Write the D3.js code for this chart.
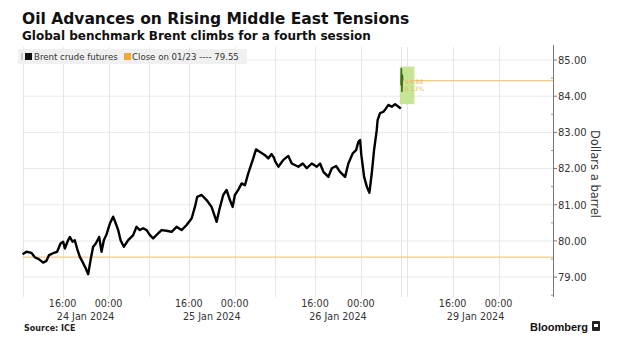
<!DOCTYPE html>
<html><head><meta charset="utf-8">
<script src="https://cdn.jsdelivr.net/npm/d3@7"></script>
<style>
html,body{margin:0;padding:0;background:#fff;}
svg{display:block;font-family:"DejaVu Sans",Verdana,sans-serif;}
</style></head>
<body><svg id="c" width="625" height="346"></svg>
<script>
// ---- data (times in Hong Kong time, UTC+8) ----
const titleText = "Oil Advances on Rising Middle East Tensions";
const subtitleText = "Global benchmark Brent climbs for a fourth session";
const sourceText = "Source: ICE";
const seriesName = "Brent crude futures";
const refName = "Close on 01/23 ---- 79.55";
const closeRef = 79.55;
const lastPrice = 84.43;
const changeLabels = ["+4.88", "6.13%"];
const highlightRange = [83.78, 84.82];
const highlightEnd = "01-29 09:20";

const sessions = [
  ["2024-01-24T09:00:00+08:00", "2024-01-25T07:00:00+08:00"],
  ["2024-01-25T09:00:00+08:00", "2024-01-26T07:00:00+08:00"],
  ["2024-01-26T09:00:00+08:00", "2024-01-27T07:00:00+08:00"],
  ["2024-01-29T07:00:00+08:00", "2024-01-30T07:00:00+08:00"],
  ["2024-01-30T09:00:00+08:00", "2024-01-30T11:30:00+08:00"]
];

const times = [
 "01-24 09:00","01-24 09:42","01-24 10:34","01-24 11:09","01-24 11:54","01-24 12:36","01-24 13:11","01-24 13:38",
 "01-24 14:20","01-24 15:02","01-24 15:38","01-24 16:05","01-24 16:23","01-24 16:57","01-24 17:15","01-24 17:43",
 "01-24 18:07","01-24 18:31","01-24 19:00","01-24 19:28","01-24 20:02","01-24 20:27","01-24 20:52","01-24 21:19",
 "01-24 21:47","01-24 22:22","01-24 22:47","01-24 23:11","01-24 23:39","01-25 00:14","01-25 00:48","01-25 01:16",
 "01-25 01:41","01-25 02:06","01-25 02:40","01-25 03:26","01-25 04:18","01-25 04:53","01-25 05:28","01-25 06:02",
 "01-25 06:38",
 "01-25 09:13","01-25 09:47","01-25 10:39","01-25 11:15","01-25 12:07","01-25 13:00","01-25 13:52","01-25 14:44",
 "01-25 15:37","01-25 16:29","01-25 17:04","01-25 17:28","01-25 18:14","01-25 19:06","01-25 19:58","01-25 20:51",
 "01-25 21:18","01-25 22:00","01-25 22:35","01-25 23:10","01-25 23:38","01-26 00:02","01-26 00:37","01-26 01:13",
 "01-26 01:47","01-26 02:22","01-26 02:40","01-26 03:14","01-26 03:43","01-26 04:25","01-26 05:17","01-26 05:51",
 "01-26 06:26","01-26 06:50",
 "01-26 09:05","01-26 09:37","01-26 10:29","01-26 11:21","01-26 11:57","01-26 13:06","01-26 13:52","01-26 14:34",
 "01-26 15:26","01-26 16:19","01-26 16:53","01-26 17:28","01-26 18:20","01-26 18:56","01-26 19:41","01-26 20:22",
 "01-26 21:15","01-26 21:49","01-26 22:35","01-26 23:10","01-26 23:34","01-26 23:52","01-27 00:05","01-27 00:34",
 "01-27 01:02","01-27 01:29","01-27 01:54","01-27 02:18","01-27 02:46","01-27 02:55","01-27 03:21","01-27 03:56",
 "01-27 04:19","01-27 04:48","01-27 05:23","01-27 05:58","01-27 06:33","01-27 06:58"
];
const prices = [
 79.63,79.70,79.67,79.55,79.49,79.40,79.45,79.61,
 79.66,79.70,79.93,79.98,79.79,80.02,80.11,79.98,
 80.02,79.79,79.56,79.42,79.24,79.08,79.47,79.84,
 79.93,80.11,79.70,80.02,80.18,80.48,80.67,80.48,
 80.30,80.02,79.84,80.02,80.16,80.39,80.30,80.35,
 80.30,
 80.16,80.07,80.21,80.30,80.28,80.25,80.39,80.30,
 80.44,80.62,80.94,81.22,81.27,81.13,80.94,80.53,
 80.85,81.27,81.41,81.13,80.94,81.27,81.41,81.59,
 81.54,81.87,82.01,82.28,82.53,82.46,82.37,82.28,
 82.40,82.30,
 82.19,82.05,82.24,82.35,82.14,82.05,82.14,82.01,
 82.14,82.05,82.14,81.91,81.77,82.01,82.07,81.91,
 81.77,82.14,82.42,82.51,82.74,82.79,82.37,81.77,
 81.50,81.33,81.87,82.51,83.06,83.34,83.53,83.57,
 83.65,83.76,83.71,83.78,83.71,83.66
];
const latestTimes = ["01-29 07:00","01-29 07:03","01-29 07:06","01-29 07:10","01-29 07:14","01-29 07:18"];
const latestPrices = [84.30, 84.78, 84.55, 84.12, 84.60, 84.43];

const yTicks = [79, 80, 81, 82, 83, 84, 85];
const yMinorTicks = [78.5, 79.5, 80.5, 81.5, 82.5, 83.5, 84.5];
const gridTimes = [];
["01-24","01-25","01-26","01-27","01-28","01-29"].forEach(d => {
  gridTimes.push(d + " 08:00", d + " 16:00");
});
gridTimes.push("01-25 00:00","01-26 00:00","01-27 00:00","01-30 00:00");
const labelDays = [
  {time: "01-24 16:00", next: "01-25 00:00", label: "24 Jan 2024"},
  {time: "01-25 16:00", next: "01-26 00:00", label: "25 Jan 2024"},
  {time: "01-26 16:00", next: "01-27 00:00", label: "26 Jan 2024"},
  {time: "01-29 16:00", next: "01-30 00:00", label: "29 Jan 2024"}
];

// ---- helpers ----
const parseT = s => new Date("2024-" + s.replace(" ", "T") + ":00+08:00");
const sess = sessions.map(s => [new Date(s[0]), new Date(s[1])]);
const HOUR = 3600e3;
function tradingHours(dt) {
  let h = 0;
  for (const [a, b] of sess) {
    const v = Math.min(Math.max(dt - a, 0), b - a);
    h += v / HOUR;
  }
  return h;
}
const totalHours = tradingHours(sess[sess.length - 1][1]);

const plotL = 22.5, plotR = 553, plotT = 47, plotB = 297;
const x = d3.scaleLinear().domain([0, totalHours]).range([plotL, plotR]);
const y = d3.scaleLinear().domain([78.45, 85.36]).range([plotB, plotT]);
const xt = s => x(tradingHours(s instanceof Date ? s : parseT(s)));

const svg = d3.select("#c");

// grid
const g = svg.append("g");
g.selectAll(".hg").data(yTicks).join("line")
  .attr("x1", plotL).attr("x2", plotR)
  .attr("y1", d => y(d)).attr("y2", d => y(d))
  .attr("stroke", "#e9e9e9").attr("stroke-width", 1);
g.selectAll(".vg").data(gridTimes).join("line")
  .attr("x1", d => Math.round(xt(d)) + 0.5).attr("x2", d => Math.round(xt(d)) + 0.5)
  .attr("y1", plotT).attr("y2", plotB)
  .attr("stroke", "#e6e6e6").attr("stroke-width", 1);

// legend bar
const lg = svg.append("g");
lg.append("rect").attr("x", 18).attr("y", 49).attr("width", 229).attr("height", 15).attr("fill", "#f0f0f0");
lg.append("rect").attr("x", 21).attr("y", 53).attr("width", 2).attr("height", 7).attr("fill", "#c8c8c8");
lg.append("rect").attr("x", 25).attr("y", 53).attr("width", 7).attr("height", 7).attr("fill", "#111");
lg.append("text").attr("x", 34).attr("y", 60).attr("font-size", 8.6).attr("fill", "#333").text(seriesName);
lg.append("rect").attr("x", 124).attr("y", 53).attr("width", 7).attr("height", 7).attr("fill", "#f0a830");
lg.append("text").attr("x", 132).attr("y", 60).attr("font-size", 8.6).attr("fill", "#333").text(refName);

// reference close line
svg.append("line").attr("x1", plotL).attr("x2", plotR)
  .attr("y1", y(closeRef)).attr("y2", y(closeRef))
  .attr("stroke", "#f3c98a").attr("stroke-width", 1.2);

// highlight box for latest session
const hx0 = xt(times[times.length - 1]) - 1, hx1 = xt(highlightEnd);
svg.append("rect").attr("x", hx0).attr("y", y(highlightRange[1]))
  .attr("width", hx1 - hx0).attr("height", y(highlightRange[0]) - y(highlightRange[1]))
  .attr("fill", "#c0e38a").attr("opacity", 0.9);
// last price line
svg.append("line").attr("x1", xt(latestTimes[latestTimes.length - 1]) + 1).attr("x2", plotR)
  .attr("y1", y(lastPrice)).attr("y2", y(lastPrice))
  .attr("stroke", "#f3c98a").attr("stroke-width", 1.2);
svg.append("text").attr("x", hx0 + 5).attr("y", y(lastPrice) + 3).attr("font-size", 6)
  .attr("fill", "#e8b860").text(changeLabels[0]);
svg.append("text").attr("x", hx0 + 5).attr("y", y(lastPrice) + 10).attr("font-size", 6)
  .attr("fill", "#e8b860").text(changeLabels[1]);

// series line
const line = d3.line().x(d => xt(d[0])).y(d => y(d[1]));
svg.append("path").datum(times.map((t, i) => [t, prices[i]]))
  .attr("d", line).attr("fill", "none").attr("stroke", "#000").attr("stroke-width", 2.4)
  .attr("stroke-linejoin", "round");
svg.append("path").datum(latestTimes.map((t, i) => [t, latestPrices[i]]))
  .attr("d", line).attr("fill", "none").attr("stroke", "#3f6f12").attr("stroke-width", 1.6);

// y axis
const yAxis = svg.append("g").attr("transform", `translate(${plotR},0)`);
yAxis.append("line").attr("x1", 0.5).attr("x2", 0.5).attr("y1", 45).attr("y2", plotB).attr("stroke", "#777");
yAxis.selectAll(".mt").data(yMinorTicks).join("line")
  .attr("x1", -2).attr("x2", 0.5).attr("y1", d => y(d)).attr("y2", d => y(d)).attr("stroke", "#999");
yAxis.selectAll(".t").data(yTicks).join("line")
  .attr("x1", 0.5).attr("x2", 4).attr("y1", d => y(d)).attr("y2", d => y(d)).attr("stroke", "#777");
yAxis.selectAll(".tl").data(yTicks).join("text")
  .attr("x", 5).attr("y", d => y(d) + 3.8).attr("font-size", 10).attr("fill", "#333")
  .text(d => d3.format(".2f")(d));
svg.append("text").attr("transform", `translate(591,${(plotT + plotB) / 2 + 2}) rotate(90)`)
  .attr("text-anchor", "middle").attr("font-size", 11.5).attr("fill", "#333").text("Dollars a barrel");

// x labels
const xl = svg.append("g").attr("font-size", 9.6).attr("fill", "#333").attr("text-anchor", "middle");
labelDays.forEach(d => {
  const a = xt(d.time), b = xt(d.next);
  xl.append("text").attr("x", a).attr("y", 307).text(d.time.slice(6));
  xl.append("text").attr("x", b).attr("y", 307).text(d.next.slice(6));
  xl.append("text").attr("x", (a + b) / 2).attr("y", 320).text(d.label);
});

// titles
svg.append("text").attr("x", 22).attr("y", 24).attr("font-size", 15.5).attr("font-weight", "bold")
  .attr("fill", "#111").text(titleText);
svg.append("text").attr("x", 22).attr("y", 40).attr("font-size", 12).attr("font-weight", "bold")
  .attr("fill", "#111").text(subtitleText);
svg.append("text").attr("x", 24).attr("y", 331).attr("font-size", 8).attr("font-weight", "bold")
  .attr("fill", "#222").text(sourceText);
svg.append("text").attr("x", 588).attr("y", 331).attr("font-size", 11).attr("font-weight", "bold")
  .attr("text-anchor", "end").attr("font-family", "Liberation Sans, Arial, sans-serif")
  .attr("fill", "#111").text("Bloomberg");
svg.append("rect").attr("x", 592).attr("y", 321).attr("width", 8).attr("height", 10).attr("rx", 1).attr("fill", "#222");
svg.append("rect").attr("x", 594).attr("y", 324).attr("width", 4).attr("height", 3).attr("fill", "#fff");
</script></body></html>
